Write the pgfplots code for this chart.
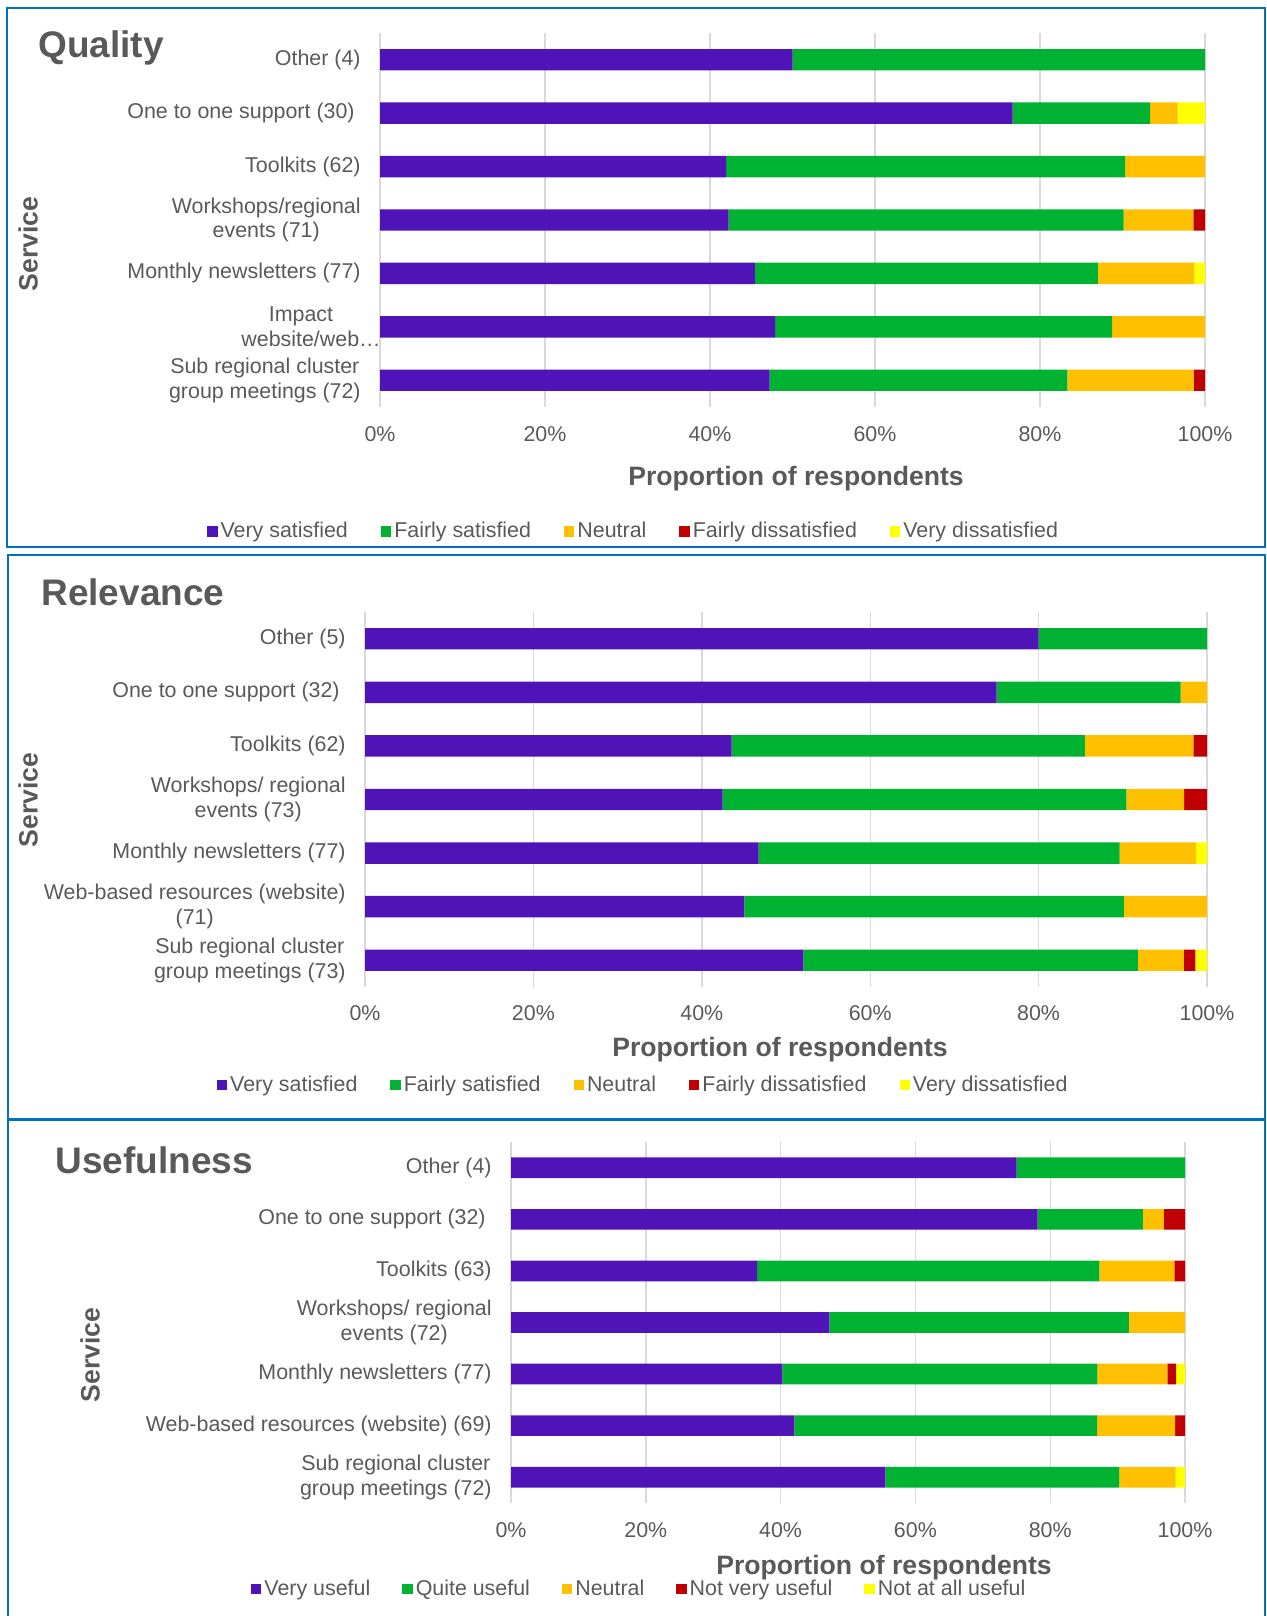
\documentclass[border=0pt]{standalone}
\usepackage{fontspec}
\setmainfont{Liberation Sans}
\usepackage{pgfplots}
\pgfplotsset{compat=1.18}
\definecolor{txt}{HTML}{595959}
\definecolor{cVS}{RGB}{79,19,184}
\definecolor{cFS}{RGB}{0,178,50}
\definecolor{cN}{RGB}{255,192,0}
\definecolor{cFD}{RGB}{192,0,0}
\definecolor{cVD}{RGB}{255,255,0}
\definecolor{frame}{RGB}{0,112,192}
\newcommand\tf{\fontsize{10.7}{12.4}\selectfont}
\newcommand\ttl{\fontsize{18.5}{21}\selectfont\bfseries}
\newcommand\atl{\fontsize{13.3}{16}\selectfont\bfseries}

\pgfplotsset{panel/.style={
  xbar stacked, scale only axis, anchor=south west,
  xmin=0, xmax=100, ymin=-0.5, ymax=6.5,
  xtick={0,20,40,60,80,100}, xticklabels={0\%,20\%,40\%,60\%,80\%,100\%},
  ytick={0,...,6},
  xmajorgrids, grid style={draw=black!15, line width=0.7pt},
  axis line style={draw=none}, major tick length=0pt,
  tick style={draw=none},
  every tick label/.append style={font=\tf, text=txt},
  yticklabel style={align=center, anchor=east, inner sep=0pt, xshift=-9.5pt},
  xticklabel style={anchor=center, inner sep=0pt, yshift=-13.5pt},
  legend columns=5,
  legend cell align=left,
  legend image code/.code={\fill[##1] (0pt,-2.6pt) rectangle (5.2pt,2.6pt);},
  legend style={draw=none, fill=none, font=\tf, text=txt, anchor=center,
    nodes={inner xsep=1.5pt, inner ysep=0pt},
    /tikz/every even column/.append style={column sep=15pt}},
}}

\begin{document}
\begin{tikzpicture}
\path[use as bounding box] (0,0) rectangle (633pt,808pt);
\draw[frame, line width=1pt] (3.5pt,804pt) rectangle (632.5pt,534.5pt);
\draw[frame, line width=1pt] (4pt,530.5pt) rectangle (632.5pt,248.5pt);
\draw[frame, line width=1pt] (4pt,-5pt) -- (4pt,248pt) -- (632.5pt,248pt) -- (632.5pt,-5pt);

% ---------------- Quality ----------------
\begin{axis}[panel, at={(190pt,604.5pt)}, width=412.5pt, height=187pt, bar width=10.7pt,
  yticklabels={{Sub regional cluster\\group meetings (72)}, {Impact\\website/web…\kern-10pt}, {Monthly newsletters (77)}, {Workshops/regional\\events (71)}, {Toolkits (62)}, {One to one support (30)\kern3pt}, {Other (4)}},
  legend style={at={(0.308,-0.333)}}]
\addplot[fill=cVS, draw=none] coordinates {(47.22,0) (47.89,1) (45.45,2) (42.25,3) (41.94,4) (76.67,5) (50,6)};
\addplot[fill=cFS, draw=none] coordinates {(36.11,0) (40.85,1) (41.56,2) (47.89,3) (48.39,4) (16.67,5) (50,6)};
\addplot[fill=cN, draw=none] coordinates {(15.28,0) (11.26,1) (11.69,2) (8.45,3) (9.67,4) (3.33,5) (0,6)};
\addplot[fill=cFD, draw=none] coordinates {(1.39,0) (0,1) (0,2) (1.41,3) (0,4) (0,5) (0,6)};
\addplot[fill=cVD, draw=none] coordinates {(0,0) (0,1) (1.30,2) (0,3) (0,4) (3.33,5) (0,6)};
\legend{Very satisfied, Fairly satisfied, Neutral, Fairly dissatisfied, Very dissatisfied}
\end{axis}

% ---------------- Relevance ----------------
\begin{axis}[panel, at={(182.5pt,314.5pt)}, width=421pt, height=187.5pt, bar width=10.7pt,
  xticklabel style={yshift=0.5pt},
  yticklabels={{Sub regional cluster\\group meetings (73)}, {Web-based resources (website)\\(71)}, {Monthly newsletters (77)}, {Workshops/ regional\\events (73)}, {Toolkits (62)}, {One to one support (32)\kern3pt}, {Other (5)}},
  legend style={at={(0.331,-0.262)}}]
\addplot[fill=cVS, draw=none] coordinates {(52.05,0) (45.07,1) (46.75,2) (42.47,3) (43.55,4) (75,5) (80,6)};
\addplot[fill=cFS, draw=none] coordinates {(39.73,0) (45.07,1) (42.86,2) (47.95,3) (41.94,4) (21.88,5) (20,6)};
\addplot[fill=cN, draw=none] coordinates {(5.48,0) (9.86,1) (9.09,2) (6.85,3) (12.90,4) (3.12,5) (0,6)};
\addplot[fill=cFD, draw=none] coordinates {(1.37,0) (0,1) (0,2) (2.74,3) (1.61,4) (0,5) (0,6)};
\addplot[fill=cVD, draw=none] coordinates {(1.37,0) (0,1) (1.30,2) (0,3) (0,4) (0,5) (0,6)};
\legend{Very satisfied, Fairly satisfied, Neutral, Fairly dissatisfied, Very dissatisfied}
\end{axis}

% ---------------- Usefulness ----------------
\begin{axis}[panel, at={(255.5pt,56.5pt)}, width=337pt, height=180.5pt, bar width=10.35pt,
  yticklabels={{Sub regional cluster\\group meetings (72)}, {Web-based resources (website) (69)}, {Monthly newsletters (77)}, {Workshops/ regional\\events (72)}, {Toolkits (63)}, {One to one support (32)\kern3pt}, {Other (4)}},
  legend style={at={(0.191,-0.238)}, /tikz/every even column/.append style={column sep=14.5pt}}]
\addplot[fill=cVS, draw=none] coordinates {(55.56,0) (42.03,1) (40.26,2) (47.22,3) (36.51,4) (78.13,5) (75,6)};
\addplot[fill=cFS, draw=none] coordinates {(34.72,0) (44.93,1) (46.75,2) (44.44,3) (50.79,4) (15.63,5) (25,6)};
\addplot[fill=cN, draw=none] coordinates {(8.33,0) (11.59,1) (10.39,2) (8.34,3) (11.11,4) (3.12,5) (0,6)};
\addplot[fill=cFD, draw=none] coordinates {(0,0) (1.45,1) (1.30,2) (0,3) (1.59,4) (3.12,5) (0,6)};
\addplot[fill=cVD, draw=none] coordinates {(1.39,0) (0,1) (1.30,2) (0,3) (0,4) (0,5) (0,6)};
\legend{Very useful, Quite useful, Neutral, Not very useful, Not at all useful}
\end{axis}

% ---------------- titles ----------------
\node[anchor=base west, text=txt, inner sep=0pt, font=\ttl] at (19pt,779pt) {Quality};
\node[anchor=base west, text=txt, inner sep=0pt, font=\ttl] at (20.5pt,505.3pt) {Relevance};
\node[anchor=base west, text=txt, inner sep=0pt, font=\ttl] at (27.5pt,221pt) {Usefulness};

\node[rotate=90, text=txt, inner sep=0pt, font=\atl] at (14pt,686pt) {Service};
\node[rotate=90, text=txt, inner sep=0pt, font=\atl] at (14pt,408pt) {Service};
\node[rotate=90, text=txt, inner sep=0pt, font=\atl] at (45pt,130.5pt) {Service};

\node[text=txt, inner sep=0pt, font=\atl] at (398pt,568.5pt) {Proportion of respondents};
\node[text=txt, inner sep=0pt, font=\atl] at (390pt,283pt) {Proportion of respondents};
\node[text=txt, inner sep=0pt, font=\atl] at (442pt,24pt) {Proportion of respondents};
\end{tikzpicture}
\end{document}
